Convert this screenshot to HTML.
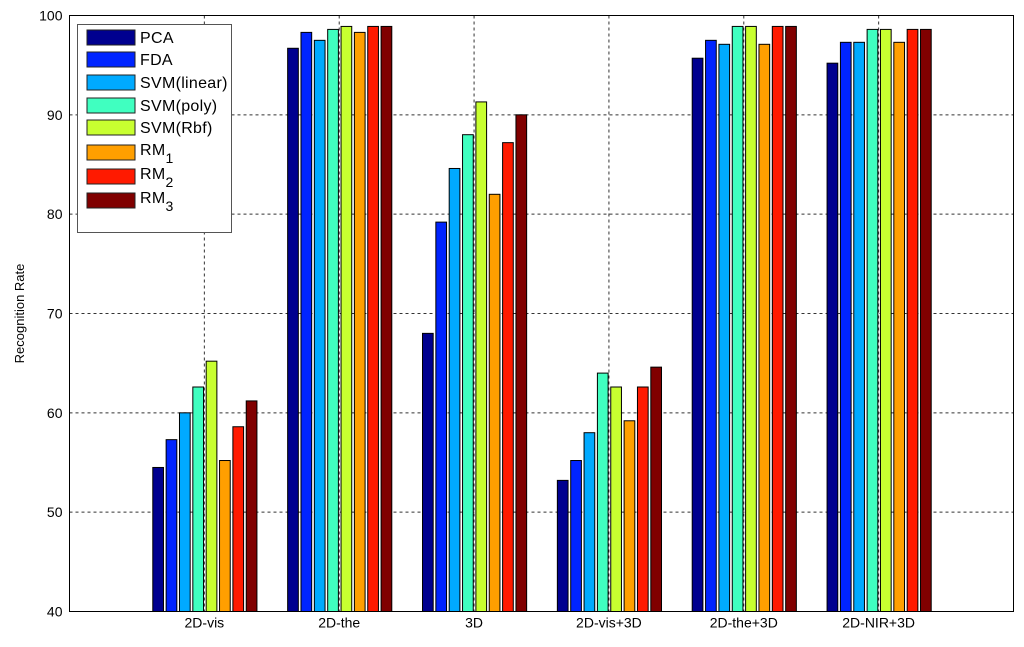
<!DOCTYPE html>
<html><head><meta charset="utf-8"><style>
html,body{margin:0;padding:0;background:#fff;}
svg text{font-family:"Liberation Sans",Arial,sans-serif;}
</style></head><body>
<svg id="chart" width="1024" height="642" xmlns="http://www.w3.org/2000/svg">
<rect width="1024" height="642" fill="#fff"/>
<g id="grid"></g>
<g id="bars"></g>
<g id="axes"></g>
<g id="legend"></g>
</svg>
<script>
const categories = ["2D-vis","2D-the","3D","2D-vis+3D","2D-the+3D","2D-NIR+3D"];
const seriesNames = ["PCA","FDA","SVM(linear)","SVM(poly)","SVM(Rbf)","RM1","RM2","RM3"];
const seriesColors = ["#00008f","#0024ff","#00aaff","#40ffc0","#c8ff30","#ff9f00","#ff1a00","#800000"];
const pca = [54.5,96.7,68.0,53.2,95.7,95.2];
const fda = [57.3,98.3,79.2,55.2,97.5,97.3];
const svmLinear = [60.0,97.5,84.6,58.0,97.1,97.3];
const svmPoly = [62.6,98.6,88.0,64.0,98.9,98.6];
const svmRbf = [65.2,98.9,91.3,62.6,98.9,98.6];
const rm1 = [55.2,98.3,82.0,59.2,97.1,97.3];
const rm2 = [58.6,98.9,87.2,62.6,98.9,98.6];
const rm3 = [61.2,98.9,90.0,64.6,98.9,98.6];
const yTicks = [40,50,60,70,80,90,100];
const series = [pca,fda,svmLinear,svmPoly,svmRbf,rm1,rm2,rm3];

const NS="http://www.w3.org/2000/svg";
const L=69.5,R=1013.5,T=15.5,B=611.5;
const xs=v=>L+(v)*(R-L)/7;
const ys=v=>B-(v-40)*(B-T)/60;
function mk(tag,attrs,parent){const e=document.createElementNS(NS,tag);for(const k in attrs)e.setAttribute(k,attrs[k]);parent.appendChild(e);return e;}
const grid=document.getElementById('grid'),bars=document.getElementById('bars'),axes=document.getElementById('axes'),legend=document.getElementById('legend');

yTicks.forEach(t=>{
  if(t>40&&t<100){const g=mk('line',{x1:L,x2:R,y1:ys(t),y2:ys(t),stroke:'#333','stroke-dasharray':'3,3','stroke-width':1},grid);
  
  }
  const tk=mk('text',{x:L-7,y:ys(t)+5,'text-anchor':'end','font-size':14,fill:'#000'},axes);tk.textContent=t;
  
  
});
categories.forEach((c,i)=>{
  const g=mk('line',{x1:xs(i+1),x2:xs(i+1),y1:T,y2:B,stroke:'#333','stroke-dasharray':'3,3','stroke-width':1},grid);
  
  
  const tk=mk('text',{x:xs(i+1),y:B+16,'text-anchor':'middle','font-size':14,fill:'#000'},axes);tk.textContent=c;
  
  
});
const step=13.35,bw=10.7;
series.forEach((vals,s)=>{
  vals.forEach((v,i)=>{
    const cx=xs(i+1)+(s-3.5)*step+0.5;
    const r=mk('rect',{x:cx-bw/2,y:ys(v),width:bw,height:B-ys(v),fill:seriesColors[s],stroke:'#000','stroke-width':1},bars);
    
    
  });
});
const frame=mk('rect',{x:L,y:T,width:R-L,height:B-T,fill:'none',stroke:'#000','stroke-width':1},axes);


const yl=mk('text',{x:24,y:(T+B)/2,'text-anchor':'middle','font-size':13,transform:'rotate(-90 24 '+((T+B)/2)+')'},axes);
yl.textContent='Recognition Rate';



const lb=mk('rect',{x:77.5,y:24.5,width:154,height:208,fill:'#fff',stroke:'#555','stroke-width':1},legend);


const ly=[37,59,82,105,127,152,176,200];
seriesNames.forEach((n,s)=>{
  const y=ly[s];
  const sw=mk('rect',{x:87,y:y-7,width:48,height:15,fill:seriesColors[s],stroke:'#222','stroke-width':1},legend);
  
  
  const t=mk('text',{x:140,y:n.startsWith('RM')?y+3:y+6,'font-size':16,'letter-spacing':'0.3',fill:'#000'},legend);
  
  
  if(n.startsWith('RM')){t.textContent='RM';const sub=mk('tspan',{dy:8,'font-size':14},t);sub.textContent=n.slice(2);}
  else t.textContent=n;
});
</script>
</body></html>
